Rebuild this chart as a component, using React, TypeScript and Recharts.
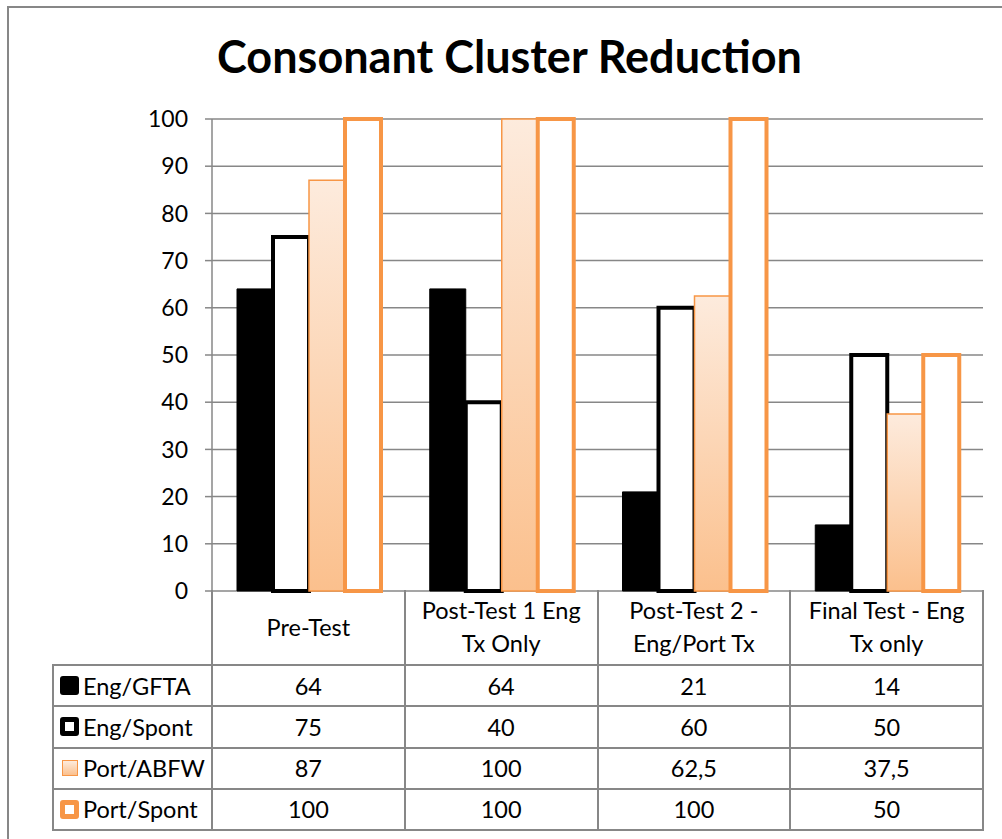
import React from 'react';
import { BarChart, Bar, XAxis, YAxis, CartesianGrid } from 'recharts';

const categoryLines = [
  ['Pre-Test'],
  ['Post-Test 1 Eng', 'Tx Only'],
  ['Post-Test 2 -', 'Eng/Port Tx'],
  ['Final Test - Eng', 'Tx only'],
];
const categories = categoryLines.map((l) => l.join(' '));

const engGfta = [64, 64, 21, 14];
const engSpont = [75, 40, 60, 50];
const portAbfw = [87, 100, 62.5, 37.5];
const portSpont = [100, 100, 100, 50];

const yTicks = [0, 10, 20, 30, 40, 50, 60, 70, 80, 90, 100];

const ORANGE = '#F79646';
const GRID = '#878787';
const FONT = 'Lato, "Open Sans", sans-serif';

const series = [
  { key: 'engGfta', name: 'Eng/GFTA', values: engGfta, fill: '#000000', stroke: '#000000', strokeWidth: 1 },
  { key: 'engSpont', name: 'Eng/Spont', values: engSpont, fill: '#ffffff', stroke: '#000000', strokeWidth: 4 },
  { key: 'portAbfw', name: 'Port/ABFW', values: portAbfw, fill: 'url(#abfwGrad)', stroke: ORANGE, strokeWidth: 1.5 },
  { key: 'portSpont', name: 'Port/Spont', values: portSpont, fill: '#ffffff', stroke: ORANGE, strokeWidth: 4 },
];

const chartData = categories.map((name, i) => {
  const row: Record<string, string | number> = { name };
  series.forEach((s) => {
    row[s.key] = s.values[i];
  });
  return row;
});

// plot area geometry (page coords)
const CHART_H = 630;
const PLOT_LEFT = 212;
const PLOT_RIGHT = 983;
const PLOT_TOP = 119;
const PLOT_BOTTOM = 591;
const Y_AXIS_W = 60;
const COL_W = (PLOT_RIGHT - PLOT_LEFT) / categories.length;
const HEADER_H = 74;
const ROW_H = 41.25;
const LEGEND_LEFT = 53;

const fmt = (v: number) => String(v).replace('.', ',');

function Swatch({ idx }: { idx: number }) {
  const base: React.CSSProperties = { boxSizing: 'border-box', display: 'inline-block', flex: 'none' };
  if (idx === 0) return <span style={{ ...base, width: 19, height: 19, background: '#000', borderRadius: 3 }} />;
  if (idx === 1)
    return <span style={{ ...base, width: 19, height: 19, background: '#fff', border: '5px solid #000', borderRadius: 3 }} />;
  if (idx === 2)
    return (
      <span
        style={{
          ...base,
          width: 16,
          height: 16,
          margin: '0 1.5px',
          border: `1.5px solid ${ORANGE}`,
          background: 'linear-gradient(#FDEBDD, #FBC08D)',
        }}
      />
    );
  return <span style={{ ...base, width: 19, height: 19, background: '#fff', border: `5px solid ${ORANGE}`, borderRadius: 3 }} />;
}

const cellBase: React.CSSProperties = {
  position: 'absolute',
  boxSizing: 'border-box',
  border: `2px solid ${GRID}`,
  display: 'flex',
  alignItems: 'center',
  justifyContent: 'center',
  fontFamily: FONT,
  fontSize: 23.5,
  color: '#000',
  whiteSpace: 'nowrap',
};

export default function App() {
  const tableTop = PLOT_BOTTOM + HEADER_H;
  return (
    <div style={{ position: 'absolute', left: 0, top: 0, width: 1002, height: 839, background: '#fff', overflow: 'hidden' }}>
      {/* outer frame */}
      <div style={{ position: 'absolute', left: 7, top: 6, width: 1010, height: 850, borderLeft: `2px solid ${GRID}`, borderTop: `2px solid ${GRID}` }} />
      <div
        style={{
          position: 'absolute',
          left: 0,
          width: 1019,
          top: 27,
          textAlign: 'center',
          fontFamily: FONT,
          fontWeight: 700,
          fontSize: 45,
          lineHeight: '58px',
          color: '#000',
        }}
      >
        Consonant Cluster Reduction
      </div>

      <div style={{ position: 'absolute', left: 0, top: 0 }}>
        <BarChart
          width={1002}
          height={CHART_H}
          data={chartData}
          margin={{ top: PLOT_TOP, right: 1002 - PLOT_RIGHT, left: PLOT_LEFT - Y_AXIS_W, bottom: CHART_H - PLOT_BOTTOM }}
          barCategoryGap={25}
          barGap={0}
        >
          <defs>
            <linearGradient id="abfwGrad" x1="0" y1="0" x2="0" y2="1">
              <stop offset="0%" stopColor="#FDEBDD" />
              <stop offset="100%" stopColor="#FBC08D" />
            </linearGradient>
          </defs>
          <CartesianGrid vertical={false} stroke={GRID} strokeWidth={1.5} />
          <XAxis dataKey="name" hide />
          <YAxis
            width={Y_AXIS_W}
            domain={[0, 100]}
            ticks={yTicks}
            interval={0}
            stroke={GRID}
            strokeWidth={1.5}
            tickSize={7}
            tickMargin={17}
            tick={{ fill: '#000', fontSize: 23, fontFamily: FONT }}
          />
          {series.map((s) => (
            <Bar
              key={s.key}
              dataKey={s.key}
              name={s.name}
              fill={s.fill}
              stroke={s.stroke}
              strokeWidth={s.strokeWidth}
              isAnimationActive={false}
            />
          ))}
        </BarChart>
      </div>

      {/* category header cells */}
      {categoryLines.map((lines, i) => (
        <div
          key={categories[i]}
          style={{
            ...cellBase,
            left: PLOT_LEFT + i * COL_W - 1,
            top: PLOT_BOTTOM - 1,
            width: COL_W + 2,
            height: HEADER_H + 2,
            flexDirection: 'column',
            lineHeight: '33px',
            borderTop: 'none',
          }}
        >
          {lines.map((l) => (
            <div key={l}>{l}</div>
          ))}
        </div>
      ))}

      {/* data table */}
      {series.map((s, r) => (
        <React.Fragment key={s.key}>
          <div
            style={{
              ...cellBase,
              left: LEGEND_LEFT - 1,
              top: tableTop + r * ROW_H - 1,
              width: PLOT_LEFT - LEGEND_LEFT + 2,
              height: ROW_H + 2,
              justifyContent: 'flex-start',
              paddingLeft: 6,
              gap: 4,
            }}
          >
            <Swatch idx={r} />
            <span>{s.name}</span>
          </div>
          {s.values.map((v, c) => (
            <div
              key={c}
              style={{
                ...cellBase,
                left: PLOT_LEFT + c * COL_W - 1,
                top: tableTop + r * ROW_H - 1,
                width: COL_W + 2,
                height: ROW_H + 2,
              }}
            >
              {fmt(v)}
            </div>
          ))}
        </React.Fragment>
      ))}
    </div>
  );
}
